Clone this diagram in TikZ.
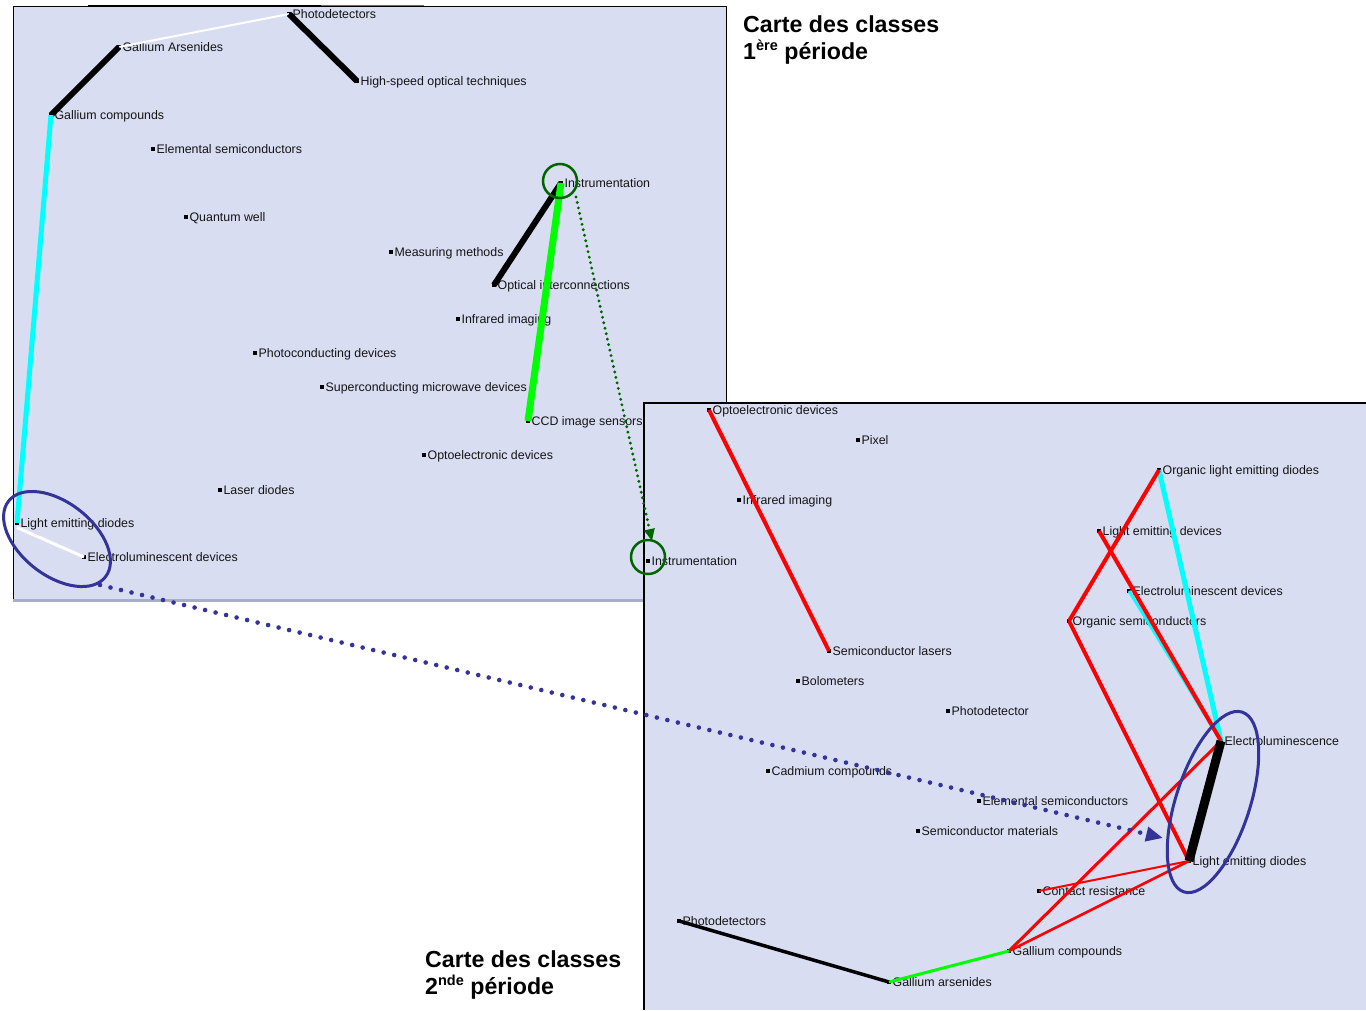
\documentclass[tikz,border=0pt]{standalone}
\usepackage{fontspec}
\setmainfont{Liberation Sans}
\usetikzlibrary{arrows.meta,shapes.geometric}
\definecolor{panelbg}{RGB}{217,221,241}
\definecolor{panelline}{RGB}{168,174,200}
\definecolor{ellblue}{RGB}{51,51,153}
\definecolor{dkgreen}{RGB}{0,100,0}
\definecolor{txt}{RGB}{20,20,20}
\definecolor{ecyan}{RGB}{0,255,255}
\definecolor{egreen}{RGB}{0,255,0}
\definecolor{ered}{RGB}{255,0,0}
\tikzset{
  sq/.style={fill=black, inner sep=0pt, minimum size=4.8pt, shape=rectangle},
  lbl/.style={font=\fontsize{12.4}{14}\selectfont, text=txt, inner sep=0pt, anchor=base west},
  ttl/.style={font=\fontsize{23.2}{27}\bfseries\selectfont, text=black, inner sep=0pt, anchor=base west},
  gcirc/.style={circle, draw=dkgreen, line width=2.5pt, minimum size=34pt, inner sep=0pt},
  bell/.style={ellipse, draw=ellblue, line width=3pt, inner sep=0pt},
  gdot/.style={dkgreen, line width=3.2pt, line cap=round, dash pattern=on 0pt off 5.6pt, -{Triangle[length=12pt,width=10pt]}},
  bdot/.style={ellblue, line width=4.6pt, line cap=round, dash pattern=on 0pt off 10.8pt, -{Triangle[length=17pt,width=14pt]}},
}
\newcommand\cnode[4]{%
  \node[sq] (#1) at (#2,#3) {};
  \node[lbl] (#1-l) at ([xshift=3.4pt,yshift=-4.3pt]#1.center) {#4};
}
\begin{document}
\begin{tikzpicture}[x=1pt,y=-1pt]
\useasboundingbox (0,0) rectangle (1366,1010);
\fill[white] (0,0) rectangle (1366,1010);
% ---------- panel 1 ----------
\fill[panelbg] (13,6) rectangle (726,600);
\draw[black, line width=1pt] (13,600) -- (13,6) -- (726,6) -- (726,403);
\draw[black, line width=2pt] (88,5.5) -- (321,5.5);
\draw[black!60, line width=1.5pt] (321,5.5) -- (424,5.5);
\draw[panelline, line width=3pt] (13,600) -- (644,600);

\cnode{a-pd}{289}{14}{Photodetectors}
\cnode{a-ga}{119}{47}{Gallium Arsenides}
\cnode{a-hs}{357}{81}{High-speed optical techniques}
\cnode{a-gc}{51}{115}{Gallium compounds}
\cnode{a-es}{153}{149}{Elemental semiconductors}
\cnode{a-in}{561}{183}{Instrumentation}
\cnode{a-qw}{186}{217}{Quantum well}
\cnode{a-mm}{391}{252}{Measuring methods}
\cnode{a-oi}{494}{285}{Optical interconnections}
\cnode{a-ir}{458}{319}{Infrared imaging}
\cnode{a-pc}{255}{353}{Photoconducting devices}
\cnode{a-sm}{322}{387}{Superconducting microwave devices}
\cnode{a-cc}{528}{421}{CCD image sensors}
\cnode{a-od}{424}{455}{Optoelectronic devices}
\cnode{a-ld}{220}{490}{Laser diodes}
\cnode{a-le}{17}{523}{Light emitting diodes}
\cnode{a-ed}{84}{557}{Electroluminescent devices}

\draw[white, line width=2pt] (a-pd.center) -- (a-ga.center);
\draw[black, line width=6pt] (a-pd.center) -- (a-hs.center);
\draw[black, line width=6pt] (a-ga.center) -- (a-gc.center);
\draw[ecyan, line width=5pt] (a-gc.center) -- (a-le.center);
\draw[white, line width=3pt] ([yshift=-4.5pt]a-le.center) -- (a-ed.center);
\draw[black, line width=6pt] (a-in.center) -- (a-oi.center);
\draw[egreen, line width=7pt] (a-in.center) -- (a-cc.center);

% ---------- panel 2 ----------
\fill[panelbg] (644,403) rectangle (1366,1010);
\draw[black, line width=1.2pt] (644,1010) -- (644,403) -- (1366,403);
\draw[black, line width=2pt] (700,402.5) -- (963,402.5);

\cnode{b-od}{709}{410}{Optoelectronic devices}
\cnode{b-px}{858}{440}{Pixel}
\cnode{b-ol}{1159}{470}{Organic light emitting diodes}
\cnode{b-ir}{739}{500}{Infrared imaging}
\cnode{b-lv}{1099}{531}{Light emitting devices}
\cnode{b-in}{648}{561}{Instrumentation}
\cnode{b-ed}{1129}{591}{Electroluminescent devices}
\cnode{b-os}{1069}{621}{Organic semiconductors}
\cnode{b-sl}{829}{651}{Semiconductor lasers}
\cnode{b-bo}{798}{681}{Bolometers}
\cnode{b-ph}{948}{711}{Photodetector}
\cnode{b-el}{1221}{741}{Electroluminescence}
\cnode{b-cd}{768}{771}{Cadmium compounds}
\cnode{b-es}{979}{801}{Elemental semiconductors}
\cnode{b-sm}{918}{831}{Semiconductor materials}
\cnode{b-le}{1189}{861}{Light emitting diodes}
\cnode{b-cr}{1039}{891}{Contact resistance}
\cnode{b-pd}{679}{921}{Photodetectors}
\cnode{b-gc}{1009}{951}{Gallium compounds}
\cnode{b-ga}{889}{982}{Gallium arsenides}

\draw[ecyan, line width=3pt] (b-ed.center) -- (b-el.center);
\draw[ecyan, line width=5pt] (b-ol.center) -- (b-el.center);
\draw[ered, line width=4pt] (b-od.center) -- (b-sl.center);
\draw[ered, line width=4pt] (b-ol.center) -- (b-os.center);
\draw[ered, line width=4pt] (b-os.center) -- (b-le.center);
\draw[ered, line width=4pt] (b-lv.center) -- (b-el.center);
\draw[ered, line width=3pt] (b-el.center) -- (b-gc.center);
\draw[ered, line width=2pt] (b-le.center) -- (b-cr.center);
\draw[ered, line width=2.5pt] (b-le.center) -- (b-gc.center);
\draw[black, line width=9pt] (b-el.center) -- (b-le.center);
\draw[black, line width=3.5pt] (b-pd.center) -- (b-ga.center);
\draw[egreen, line width=3pt] (b-ga.center) -- (b-gc.center);

% ---------- titles ----------
\node[ttl] (t1a) at (743,32) {Carte des classes};
\node[ttl] (t1b) at (743,59.6) {1\raisebox{9.5pt}{\fontsize{14.5}{14.5}\bfseries\selectfont ère} période};
\node[ttl] (t2a) at (425,967) {Carte des classes};
\node[ttl] (t2b) at (425,994.6) {2\raisebox{9.5pt}{\fontsize{14.5}{14.5}\bfseries\selectfont nde} période};

% ---------- highlights ----------
\node[gcirc] (c1) at (560,181) {};
\node[gcirc] (c2) at (648,557) {};
\node[bell, minimum width=123pt, minimum height=73pt, rotate=-38] (e1) at (57,539) {};
\node[bell, minimum width=74pt, minimum height=189pt, rotate=-18] (e2) at (1213,802) {};
\coordinate (g1) at (576,197);
\coordinate (g2) at (652,541);
\draw[gdot] (g1) -- (g2);
\coordinate (b1) at (100,585);
\coordinate (b2) at (1163,838);
\draw[bdot] (b1) -- (b2);
\end{tikzpicture}
\end{document}
